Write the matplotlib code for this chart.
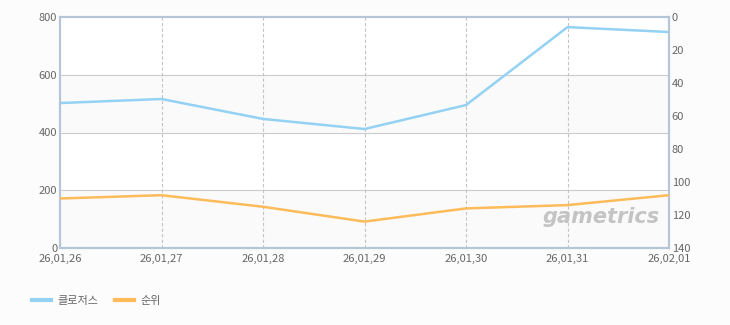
import numpy as np
import matplotlib.pyplot as plt

plt.rcParams['font.family'] = ['Noto Sans CJK KR', 'DejaVu Sans']

# data
dates = ['26,01,26', '26,01,27', '26,01,28', '26,01,29', '26,01,30', '26,01,31', '26,02,01']
users = [502, 516, 447, 412, 495, 765, 748]   # 클로저스 (left axis)
rank = [110, 108, 115, 124, 116, 114, 108]    # 순위 (right axis, inverted)

blue = '#93d2f2'
orange = '#fdbb5a'
spine_col = '#b4c6d8'
txt = '#666666'

fig = plt.figure(figsize=(7.3, 3.25), dpi=100, facecolor='#fcfcfc')
ax = fig.add_axes([60/730, 77/325, 609/730, 231/325])
ax.set_facecolor('white')

x = np.arange(len(dates))
ax.set_xlim(0, len(dates) - 1)
ax.set_ylim(0, 800)

# alternating bands + horizontal grid
for lo in range(0, 800, 400):
    ax.axhspan(lo, lo + 200, color='#fafafa', zorder=0)
for yv in [200, 400, 600]:
    ax.axhline(yv, color='#cccccc', lw=0.8, zorder=1)
for xv in x[1:-1]:
    ax.axvline(xv, color='#c4c4c4', lw=0.8, ls=(0, (3, 2)), zorder=1)

ax.plot(x, users, color=blue, lw=1.8, zorder=3, label='클로저스')

ax2 = ax.twinx()
ax2.set_ylim(140, 0)
ax2.plot(x, rank, color=orange, lw=1.8, zorder=3, label='순위')

ax.set_xticks(x)
ax.set_xticklabels(dates)
ax.set_yticks([0, 200, 400, 600, 800])
ax2.set_yticks(range(0, 141, 20))

for a in (ax, ax2):
    for s in a.spines.values():
        s.set_color(spine_col)
        s.set_linewidth(1.5)
    a.tick_params(length=0, labelsize=8, colors=txt, pad=2)
ax.tick_params(axis='x', pad=4)

# watermark
ax.text(0.985, 0.09, 'gametrics', transform=ax.transAxes, ha='right', va='bottom',
        fontsize=15, fontweight='bold', style='italic', color='#c4c4c4',
        family='DejaVu Sans', zorder=2)

h1, l1 = ax.get_legend_handles_labels()
h2, l2 = ax2.get_legend_handles_labels()
leg = fig.legend(h1 + h2, l1 + l2, loc='center left', bbox_to_anchor=(22/730, 1 - 301/325),
                 ncol=2, frameon=False, fontsize=8, handlelength=1.7, handletextpad=0.6,
                 columnspacing=1.5)
for line in leg.get_lines():
    line.set_linewidth(3)
for t in leg.get_texts():
    t.set_color(txt)

fig.savefig('out.png', dpi=100, facecolor=fig.get_facecolor())
